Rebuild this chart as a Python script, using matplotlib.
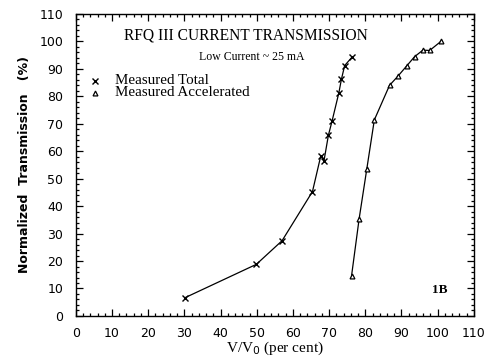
import matplotlib
matplotlib.use('Agg')
import matplotlib.pyplot as plt
from matplotlib.ticker import MultipleLocator

# measured total transmission
total_v = [30.1, 49.9, 57.0, 65.4, 67.7, 68.6, 69.8, 70.8, 72.7, 73.4, 74.3, 76.3]
total_t = [6.6, 18.8, 27.4, 45.3, 58.3, 56.6, 65.8, 70.9, 81.3, 86.2, 91.2, 94.2]

# measured accelerated transmission
accel_v = [76.2, 78.3, 80.4, 82.5, 86.7, 89.0, 91.4, 93.6, 95.9, 97.8, 101.0]
accel_t = [14.6, 35.4, 53.4, 71.4, 84.0, 87.3, 91.0, 94.4, 96.8, 96.7, 100.1]

serif = 'Liberation Serif'

fig = plt.figure(figsize=(4.86, 3.57), dpi=100)
ax = fig.add_axes([0.156, 0.115, 0.819, 0.846])

ax.plot(total_v, total_t, color='black', lw=0.9, marker='x', ms=4, mew=1.0)
ax.plot(accel_v, accel_t, color='black', lw=0.9, marker='^', ms=3.5,
        mfc='white', mew=0.9)

ax.set_xlim(0, 110)
ax.set_ylim(0, 110)
ax.xaxis.set_major_locator(MultipleLocator(10))
ax.yaxis.set_major_locator(MultipleLocator(10))
ax.xaxis.set_minor_locator(MultipleLocator(2))
ax.yaxis.set_minor_locator(MultipleLocator(2))
ax.tick_params(which='both', direction='in', top=True, right=True, width=0.9)
ax.tick_params(which='major', length=5, labelsize=9)
ax.tick_params(axis='x', which='major', pad=8)
ax.tick_params(axis='y', which='major', pad=9)
ax.tick_params(which='minor', length=2.5)
for s in ax.spines.values():
    s.set_linewidth(1.0)

ax.set_xlabel('V/V$_0$ (per cent)', fontsize=11, family=serif, labelpad=0)
ax.set_ylabel('Normalized  Transmission   (%)', fontsize=9, fontweight='bold',
              labelpad=6)

ax.text(47, 102, 'RFQ III CURRENT TRANSMISSION', family=serif, fontsize=11.2,
        ha='center', va='center')
ax.text(48.5, 94.4, 'Low Current ~ 25 mA', family=serif, fontsize=8.5,
        ha='center', va='center')

# hand-made legend
ax.plot([5.2], [85.6], color='black', marker='x', ms=4, mew=1.0, ls='none')
ax.plot([5.2], [81.2], color='black', marker='^', ms=3.5, mfc='white',
        mew=0.9, ls='none')
ax.text(10.8, 85.6, 'Measured Total', family=serif, fontsize=10.8, va='center')
ax.text(10.8, 81.2, 'Measured Accelerated', family=serif, fontsize=10.8,
        va='center')

ax.text(100.5, 9.5, '1B', family=serif, fontsize=9.5, fontweight='bold',
        ha='center', va='center')

fig.savefig('out.png', dpi=100)
